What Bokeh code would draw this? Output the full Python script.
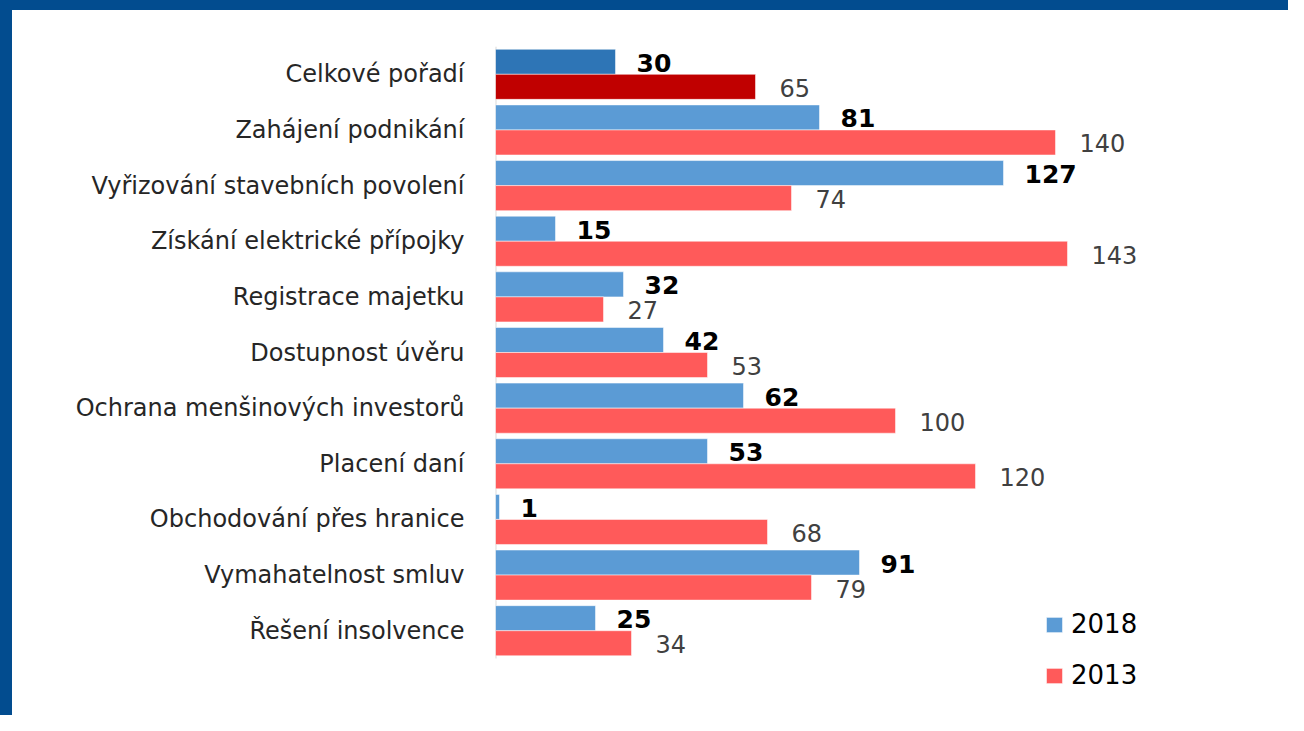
from bokeh.plotting import figure
from bokeh.models import (ColumnDataSource, Range1d, Legend, LegendItem, FixedTicker)
from bokeh.core.properties import value
from bokeh.embed import file_html
from bokeh.resources import INLINE

categories = ["Celkové pořadí", "Zahájení podnikání", "Vyřizování stavebních povolení",
              "Získání elektrické přípojky", "Registrace majetku", "Dostupnost úvěru",
              "Ochrana menšinových investorů", "Placení daní", "Obchodování přes hranice",
              "Vymahatelnost smluv", "Řešení insolvence"]
values_2018 = [30, 81, 127, 15, 32, 42, 62, 53, 1, 91, 25]
values_2013 = [65, 140, 74, 143, 27, 53, 100, 120, 68, 79, 34]
series_names = ["2018", "2013"]

col_2018 = ["#2e75b6"] + ["#5b9bd5"] * (len(categories) - 1)
col_2013 = ["#c00000"] + ["#ff5a5a"] * (len(categories) - 1)

n = len(categories)
pos = list(range(n))
OFF = 0.225
src = ColumnDataSource(dict(
    cat=categories, v18=values_2018, v13=values_2013,
    y18=[i - OFF for i in pos], y13=[i + OFF for i in pos],
    l18=[str(v) for v in values_2018], l13=[str(v) for v in values_2013],
    c18=col_2018, c13=col_2013,
))

FONT = "DejaVu Sans"
W, H = 1288, 715
LEFT, TOP = 495, 46
ROW = 55.64
PX_PER_UNIT = 4.0

p = figure(width=W, height=H, output_backend="svg", toolbar_location=None,
           x_range=Range1d(0, (W - LEFT) / PX_PER_UNIT),
           y_range=Range1d(-0.5 + (H - TOP) / ROW, -0.5),
           min_border_left=LEFT, min_border_right=0, min_border_top=TOP, min_border_bottom=0)
p.xaxis.visible = False
p.xgrid.visible = False
p.ygrid.visible = False
p.outline_line_color = None
p.background_fill_alpha = 0
p.border_fill_alpha = 0
p.styles = {"box-shadow": "inset 12px 10px 0 0 #024c8f", "background": "white"}

yax = p.yaxis[0]
yax.ticker = FixedTicker(ticks=pos)
yax.major_label_overrides = {i: c for i, c in zip(pos, categories)}
yax.axis_line_color = None
yax.major_tick_line_color = None
yax.minor_tick_line_color = None
yax.major_tick_out = 0
yax.major_tick_in = 0
yax.major_label_standoff = 31
yax.major_label_text_font = FONT
yax.major_label_text_font_size = "24px"
yax.major_label_text_color = "#262626"

# vertical category axis line
p.segment(x0=[0], y0=[-0.5], x1=[0], y1=[n - 0.5], line_color="#d9d9d9", line_width=2)

r18 = p.hbar(y="y18", right="v18", left=0, height=0.45,
             fill_color="c18", line_color="white", line_alpha=0.5, line_width=1, source=src)
r13 = p.hbar(y="y13", right="v13", left=0, height=0.45,
             fill_color="c13", line_color="white", line_alpha=0.5, line_width=1, source=src)

p.text(x="v18", y="y18", text="l18", source=src,
       x_offset=21, y_offset=1, text_baseline="middle", text_align="left",
       text_font=value(FONT), text_font_size="25px", text_font_style="bold",
       text_color="black")
p.text(x="v13", y="y13", text="l13", source=src,
       x_offset=24, y_offset=1, text_baseline="middle", text_align="left",
       text_font=value(FONT), text_font_size="24px", text_color="#404040")

legend = Legend(items=[LegendItem(label=series_names[0], renderers=[r18], index=1),
                       LegendItem(label=series_names[1], renderers=[r13], index=1)],
                location=(549, 25), orientation="vertical",
                glyph_width=20, glyph_height=19, label_standoff=7,
                label_height=30, spacing=21, padding=0, margin=0,
                border_line_color=None, background_fill_alpha=0,
                label_text_font=FONT, label_text_font_size="26px",
                label_text_color="black")
p.add_layout(legend, "center")

open("out.html", "w").write(file_html(p, INLINE))
